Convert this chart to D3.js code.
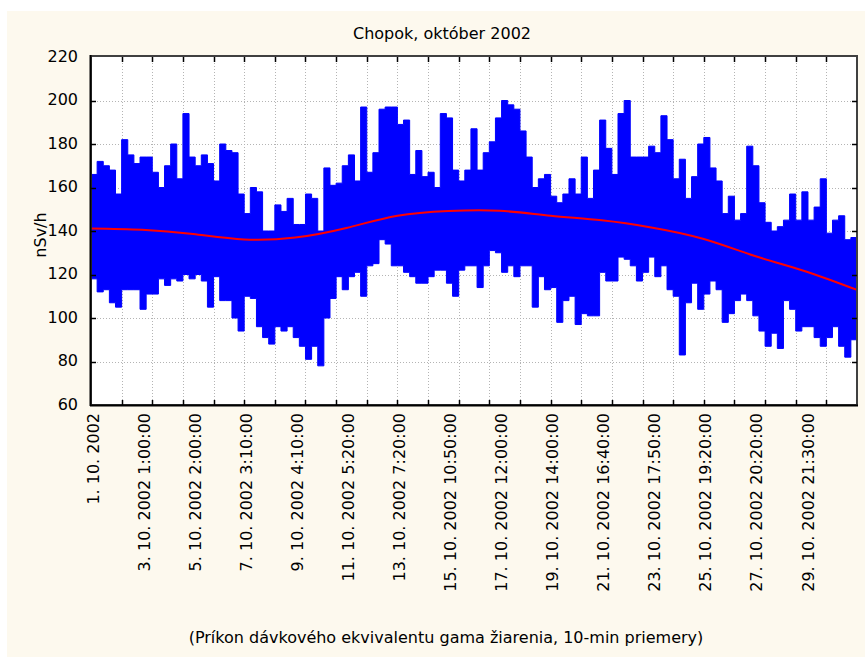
<!DOCTYPE html>
<html><head><meta charset="utf-8">
<script src="https://cdn.jsdelivr.net/npm/d3@7"></script>
<style>html,body{margin:0;padding:0;background:#fff;} svg{display:block;}</style>
</head><body><svg id="c" width="865" height="657"></svg>
<script>
const title = "Chopok, október 2002";
const yLabel = "nSv/h";
const caption = "(Príkon dávkového ekvivalentu gama žiarenia, 10-min priemery)";
const caseCount = 4500;
const sampleStep = 36;
const bandHigh = [166,172,170,168,157,182,175,171,174,174,167,160,170,180,164,194,174,170,175,171,163,180,177,176,157,148,160,158,140,140,152,149,155,143,143,157,155,140,169,161,
162,170,175,163,197,167,176,196,197,197,189,191,166,177,165,167,160,194,192,168,163,168,187,168,176,181,192,200,198,196,186,174,160,164,166,156,153,157,164,157,174,155,168,
191,178,166,194,200,174,174,174,179,176,193,182,164,173,155,165,180,183,169,163,148,156,145,148,179,170,153,144,140,142,145,157,145,158,145,151,164,139,145,147,136,137];
const bandLow = [118,112,113,107,105,113,113,113,104,111,111,118,115,118,117,120,118,120,117,105,119,108,108,100,94,110,109,96,91,88,96,94,96,91,87,81,87,78,100,109,
119,113,119,121,110,124,125,136,134,124,124,121,119,116,116,119,122,122,116,110,122,124,124,114,124,131,130,121,124,119,124,124,105,119,113,114,98,108,110,97,102,101,101,
121,117,117,128,127,124,117,121,128,119,124,113,110,83,107,116,104,111,117,113,98,102,108,111,108,101,94,87,93,86,108,104,94,96,96,91,87,91,96,87,82,90];
const trendCase = [0,300,600,900,1200,1500,1800,2100,2400,2700,3000,3300,3600,3900,4200,4500];
const trendValue = [141.2,140.6,138.6,136.1,137.0,141.4,147.0,149.2,149.3,147.0,144.9,141.5,136.3,128.5,121.4,112.9];
const yTicks = [60,80,100,120,140,160,180,200,220];
const xGridStep = 180;
const xLabelCase = [0,300,600,900,1200,1500,1800,2100,2400,2700,3000,3300,3600,3900,4200];
const xLabels = ["1. 10. 2002","3. 10. 2002 1:00:00","5. 10. 2002 2:00:00","7. 10. 2002 3:10:00","9. 10. 2002 4:10:00","11. 10. 2002 5:20:00","13. 10. 2002 7:20:00","15. 10. 2002 10:50:00","17. 10. 2002 12:00:00","19. 10. 2002 14:00:00","21. 10. 2002 16:40:00","23. 10. 2002 17:50:00","25. 10. 2002 19:20:00","27. 10. 2002 20:20:00","29. 10. 2002 21:30:00"];

const svg = d3.select("#c");
const L = 91, R = 857, T = 57, B = 405;
const font = "'DejaVu Sans', sans-serif";
const x = d3.scaleLinear().domain([0, caseCount]).range([L, R]);
const y = d3.scaleLinear().domain([60, 220]).range([B, T]);

svg.append("rect").attr("x",0).attr("y",0).attr("width",865).attr("height",657).attr("fill","#fff");
svg.append("rect").attr("x",7).attr("y",11).attr("width",858).attr("height",646).attr("fill","#fdf9ee");
svg.append("rect").attr("x",L).attr("y",T).attr("width",R-L).attr("height",B-T).attr("fill","#fff");

svg.append("defs").append("clipPath").attr("id","clip").append("rect")
  .attr("x",L).attr("y",T).attr("width",R-L).attr("height",B-T);

// grid
const grid = svg.append("g").attr("stroke","#b4b4b4").attr("stroke-width",1).attr("stroke-dasharray","1,2");
d3.range(xGridStep, caseCount, xGridStep).forEach(c => {
  grid.append("line").attr("x1",Math.round(x(c))+0.5).attr("x2",Math.round(x(c))+0.5).attr("y1",T).attr("y2",B);
});
yTicks.slice(1,-1).forEach(v => {
  grid.append("line").attr("x1",L).attr("x2",R).attr("y1",Math.round(y(v))+0.5).attr("y2",Math.round(y(v))+0.5);
});

// band (10-min values, drawn from read envelope)
const band = bandHigh.map((h,i) => ({c: i*sampleStep, hi: h, lo: bandLow[i]}));
band.push({c: caseCount, hi: bandHigh[bandHigh.length-1], lo: bandLow[bandLow.length-1]});
const area = d3.area().x(d => x(d.c)).y0(d => y(d.lo)).y1(d => y(d.hi)).curve(d3.curveStepAfter);
svg.append("path").attr("clip-path","url(#clip)").attr("d", area(band))
  .attr("fill","#0000ff").attr("stroke","#0000ff").attr("stroke-width",1);

// trend
const trend = trendCase.map((c,i) => ({c, v: trendValue[i]}));
svg.append("path").attr("clip-path","url(#clip)")
  .attr("d", d3.line().x(d => x(d.c)).y(d => y(d.v)).curve(d3.curveNatural)(trend))
  .attr("fill","none").attr("stroke","#ff0000").attr("stroke-width",2);

// frame
svg.append("rect").attr("x",L).attr("y",T-1).attr("width",R-L).attr("height",B-T+1)
  .attr("fill","none").attr("stroke","#404040").attr("stroke-width",2);
svg.append("line").attr("x1",L-0.5).attr("x2",L-0.5).attr("y1",T-2).attr("y2",B+1).attr("stroke","#000").attr("stroke-width",2);
svg.append("line").attr("x1",L-1).attr("x2",R+1).attr("y1",B+0.5).attr("y2",B+0.5).attr("stroke","#000").attr("stroke-width",2);

// ticks
const tk = svg.append("g").attr("stroke","#000").attr("stroke-width",1.5);
d3.range(xGridStep, caseCount, xGridStep).forEach(c => {
  const xx = Math.round(x(c))+0.5;
  tk.append("line").attr("x1",xx).attr("x2",xx).attr("y1",T).attr("y2",T+5);
  tk.append("line").attr("x1",xx).attr("x2",xx).attr("y1",B).attr("y2",B-5);
});
yTicks.slice(1,-1).forEach(v => {
  const yy = Math.round(y(v))+0.5;
  tk.append("line").attr("x1",L).attr("x2",L+5).attr("y1",yy).attr("y2",yy);
  tk.append("line").attr("x1",R).attr("x2",R-5).attr("y1",yy).attr("y2",yy);
});

// y tick labels
svg.append("g").selectAll("text").data(yTicks).join("text")
  .attr("x",78).attr("y",d => y(d)-1).attr("dy","0.35em").attr("text-anchor","end")
  .attr("font-family",font).attr("font-size",16).attr("fill","#000").text(d => d);

// x labels
svg.append("g").selectAll("text").data(xLabelCase).join("text")
  .attr("transform",(d) => `translate(${x(d)+2},413) rotate(-90)`)
  .attr("dy","0.35em").attr("text-anchor","end")
  .attr("font-family",font).attr("font-size",16).attr("fill","#000")
  .text((d,i) => xLabels[i]);

svg.append("text").attr("x",442).attr("y",33).attr("dy","0.35em").attr("text-anchor","middle")
  .attr("font-family",font).attr("font-size",16).attr("fill","#000").text(title);
svg.append("text").attr("transform","translate(40,235) rotate(-90)").attr("dy","0.35em").attr("text-anchor","middle")
  .attr("font-family",font).attr("font-size",16).attr("fill","#000").text(yLabel);
svg.append("text").attr("x",446).attr("y",637).attr("dy","0.35em").attr("text-anchor","middle")
  .attr("font-family",font).attr("font-size",16).attr("fill","#000").text(caption);
</script></body></html>
